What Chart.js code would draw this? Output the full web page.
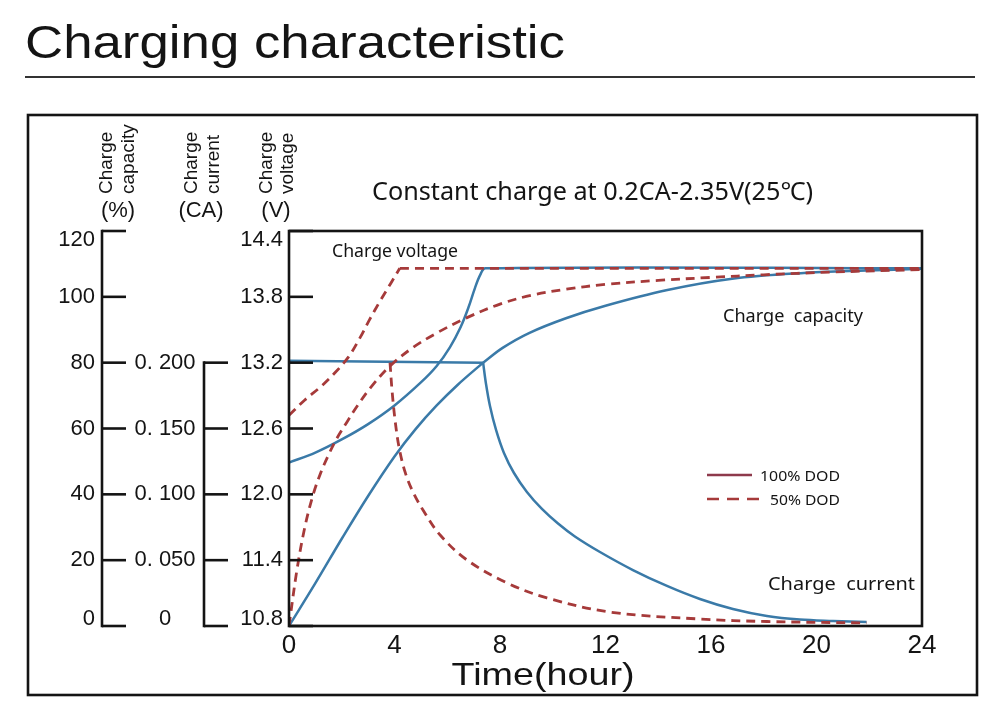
<!DOCTYPE html>
<html lang="en">
<head>
    <meta charset="UTF-8">
    <title>Charging characteristic</title>
    <script src="https://cdn.jsdelivr.net/npm/chart.js"></script>
    <style>
        body { margin: 0; background: #fff; }
        canvas { display: block; }
    </style>
</head>
<body>
    <canvas id="chargeChart" width="1000" height="711"></canvas>

    <script>
        // tick values / labels for the three left axes and the time axis
        var capTicks = [0, 20, 40, 60, 80, 100, 120];
        var curTicks = [0, 0.05, 0.1, 0.15, 0.2];
        var curLabels = ['0', '0. 050', '0. 100', '0. 150', '0. 200'];
        var voltTicks = [10.8, 11.4, 12.0, 12.6, 13.2, 13.8, 14.4];
        var hourTicks = [0, 4, 8, 12, 16, 20, 24];

        // charge voltage (V)
        var voltFullH = [0, 1, 2, 3, 4, 5, 5.6, 6.1, 6.5, 6.8, 7.05, 7.25, 7.45, 24];
        var voltFull = [12.29, 12.38, 12.5, 12.64, 12.81, 13.02, 13.17, 13.34, 13.52, 13.7, 13.88, 14.0, 14.06, 14.06];
        var voltHalfH = [0, 0.6, 1.2, 1.75, 2.25, 2.7, 3.05, 3.45, 3.85, 4.2, 24];
        var voltHalf = [12.72, 12.86, 12.98, 13.11, 13.25, 13.43, 13.59, 13.76, 13.92, 14.06, 14.06];

        // charge capacity (%)
        var capFullH = [0, 1, 2, 3, 4, 4.8, 5.6, 6.4, 7.36, 8.1, 9.1, 10.5, 12, 14.3, 16.8, 19.4, 21.9, 24];
        var capFull = [0, 13, 26.5, 39.5, 51.5, 59.8, 67, 73.3, 80, 84.5, 89, 93.5, 97.3, 102, 105.5, 107.2, 108, 108.5];
        var capHalfH = [0, 0.3, 0.6, 0.9, 1.2, 1.5, 1.8, 2.2, 2.6, 3.1, 3.83, 4.7, 5.6, 6.7, 8, 9.2, 10.5, 12, 14, 16, 18, 20.5, 24];
        var capHalf = [0, 17, 30, 39.5, 46.5, 52, 56.8, 62, 67, 72.5, 79, 84.6, 89, 93.5, 97.8, 100.5, 102.3, 103.8, 105, 105.9, 106.7, 107.5, 108.3];

        // charge current (CA)
        var curFullH = [0, 7.36, 7.47, 7.62, 7.85, 8.15, 8.53, 9.02, 9.59, 10.2, 10.84, 11.79, 13.04, 14.33, 15.58, 16.83, 18.12, 19.37, 20.63, 21.9];
        var curFull = [0.2015, 0.2, 0.1838, 0.1671, 0.1489, 0.1314, 0.1162, 0.1018, 0.0889, 0.0778, 0.068, 0.0562, 0.0425, 0.0304, 0.0205, 0.0129, 0.0076, 0.0049, 0.0038, 0.003];
        var curHalfH = [3.83, 3.905, 4.02, 4.17, 4.4, 4.7, 5.08, 5.73, 6.75, 8.27, 9.78, 12.17, 15.58, 18.12, 21.9];
        var curHalf = [0.2, 0.1792, 0.1565, 0.136, 0.117, 0.1018, 0.0881, 0.0691, 0.0501, 0.0327, 0.0213, 0.0106, 0.0053, 0.0034, 0.0023];

        // hours where a curve has a sharp corner
        var voltHalfKinks = [4.2];
        var capFullKinks = [7.36];
        var curFullKinks = [7.36];

        var blue = '#3a7aa8';
        var red = '#a63a3a';
        var ink = '#141414';

        // split a curve at its corners so the smoothing keeps them sharp
        function segments(hours, values, kinks) {
            var out = [[]];
            for (var i = 0; i < hours.length; i++) {
                var p = { x: hours[i], y: values[i] };
                out[out.length - 1].push(p);
                if (kinks.indexOf(hours[i]) >= 0 && i < hours.length - 1) {
                    out.push([p]);
                }
            }
            return out;
        }

        var datasets = [];
        function addCurve(hours, values, kinks, axis, dashed) {
            segments(hours, values, kinks).forEach(function (pts) {
                datasets.push({
                    data: pts,
                    yAxisID: axis,
                    borderColor: dashed ? red : blue,
                    borderWidth: dashed ? 2.8 : 2.5,
                    borderDash: dashed ? [9, 6] : [],
                    tension: 0.35,
                    fill: false
                });
            });
        }
        // dashed (50% DOD) first so they lie on top
        addCurve(voltHalfH, voltHalf, voltHalfKinks, 'yV', true);
        addCurve(capHalfH, capHalf, [], 'yC', true);
        addCurve(curHalfH, curHalf, [], 'yI', true);
        addCurve(voltFullH, voltFull, [], 'yV', false);
        addCurve(capFullH, capFull, capFullKinks, 'yC', false);
        addCurve(curFullH, curFull, curFullKinks, 'yI', false);

        // draw text squeezed/stretched to a given width
        function fit(c, text, x, y, w, align) {
            var m = c.measureText(text).width;
            c.save();
            c.translate(x, y);
            c.scale(w / m, 1);
            c.textAlign = align || 'left';
            c.fillText(text, 0, 0);
            c.restore();
        }
        function seg(c, x1, y1, x2, y2) {
            c.beginPath();
            c.moveTo(x1, y1);
            c.lineTo(x2, y2);
            c.stroke();
        }
        function upText(c, text, x, y) {
            c.save();
            c.translate(x, y);
            c.rotate(-Math.PI / 2);
            c.textAlign = 'left';
            c.textBaseline = 'alphabetic';
            c.fillText(text, 0, 0);
            c.restore();
        }

        var frame = {
            id: 'frame',
            afterDraw: function (chart) {
                var c = chart.ctx, a = chart.chartArea;
                var sx = chart.scales.x, sv = chart.scales.yV, sc = chart.scales.yC, si = chart.scales.yI;
                var arial = '"Liberation Sans", Arial, sans-serif';
                var noto = '"Noto Sans", "DejaVu Sans", sans-serif';
                c.save();
                c.fillStyle = ink;
                c.strokeStyle = ink;
                c.lineCap = 'butt';

                // heading + rule + outer box
                c.font = '47px ' + arial;
                c.textBaseline = 'alphabetic';
                fit(c, 'Charging characteristic', 25, 58, 540);
                c.strokeStyle = '#333';
                c.lineWidth = 2;
                seg(c, 25, 77, 975, 77);
                c.strokeStyle = ink;
                c.lineWidth = 2.6;
                c.strokeRect(28, 115, 949, 580);

                // plot frame
                c.lineWidth = 2.6;
                c.strokeRect(a.left, a.top, a.right - a.left, a.bottom - a.top);

                function labelY(py) {
                    return Math.min(Math.max(py, a.top + 9), a.bottom - 7);
                }

                // voltage axis: ticks inside the plot
                c.font = '22px ' + arial;
                c.textBaseline = 'middle';
                c.textAlign = 'right';
                voltTicks.forEach(function (v) {
                    var py = sv.getPixelForValue(v);
                    seg(c, a.left, py, a.left + 24, py);
                    c.fillText(v.toFixed(1), a.left - 6, labelY(py));
                });

                // capacity axis
                var capX = 102;
                seg(c, capX, sc.getPixelForValue(120) - 1.3, capX, sc.getPixelForValue(0) + 1.3);
                capTicks.forEach(function (v) {
                    var py = sc.getPixelForValue(v);
                    seg(c, capX, py, capX + 24, py);
                    c.textAlign = 'right';
                    c.fillText(String(v), capX - 7, labelY(py));
                });

                // current axis
                var curX = 204;
                seg(c, curX, si.getPixelForValue(0.2) - 1.3, curX, si.getPixelForValue(0) + 1.3);
                curTicks.forEach(function (v, i) {
                    var py = si.getPixelForValue(v);
                    seg(c, curX, py, curX + 24, py);
                    c.textAlign = 'center';
                    c.fillText(curLabels[i], 165, labelY(py));
                });

                // time axis
                c.font = '26px ' + arial;
                c.textAlign = 'center';
                hourTicks.forEach(function (h) {
                    c.fillText(String(h), sx.getPixelForValue(h), 646);
                });
                c.font = '32px ' + arial;
                c.textBaseline = 'alphabetic';
                fit(c, 'Time(hour)', 543, 685, 183, 'center');

                // axis titles
                c.font = '19px ' + arial;
                upText(c, 'Charge', 112, 194);
                upText(c, 'capacity', 134, 194);
                upText(c, 'Charge', 197, 194);
                upText(c, 'current', 219, 194);
                upText(c, 'Charge', 272, 194);
                upText(c, 'voltage', 293, 194);
                c.font = '22px ' + arial;
                c.textAlign = 'center';
                c.textBaseline = 'middle';
                c.fillText('(%)', 118, 211);
                c.fillText('(CA)', 201, 211);
                c.fillText('(V)', 276, 211);

                // captions
                c.textBaseline = 'alphabetic';
                c.font = '25px ' + noto;
                fit(c, 'Constant charge at 0.2CA-2.35V(25\u2103)', 372, 200, 441);
                c.font = '18px ' + noto;
                fit(c, 'Charge voltage', 332, 257, 126);
                fit(c, 'Charge  capacity', 723, 322, 140);
                fit(c, 'Charge  current', 768, 590, 147);

                // legend
                c.font = '15px ' + noto;
                fit(c, '100% DOD', 760, 481, 80);
                fit(c, '50% DOD', 770, 505, 70);
                c.lineWidth = 2.5;
                c.strokeStyle = '#8e3a4c';
                seg(c, 707, 475, 752, 475);
                c.strokeStyle = red;
                c.setLineDash([12, 8]);
                seg(c, 707, 499, 759, 499);
                c.setLineDash([]);

                c.restore();
            }
        };

        var ctx = document.getElementById('chargeChart').getContext('2d');
        new Chart(ctx, {
            type: 'line',
            data: { datasets: datasets },
            options: {
                responsive: false,
                animation: false,
                devicePixelRatio: 1,
                layout: { padding: { left: 289, right: 78, top: 231, bottom: 85 } },
                scales: {
                    x: { type: 'linear', min: 0, max: 24, display: false },
                    yV: { type: 'linear', min: 10.8, max: 14.4, display: false },
                    yC: { type: 'linear', min: 0, max: 120, display: false },
                    yI: { type: 'linear', min: 0, max: 0.3, display: false }
                },
                elements: {
                    point: { radius: 0 }
                },
                plugins: {
                    legend: { display: false },
                    tooltip: { enabled: false }
                }
            },
            plugins: [frame]
        });
    </script>
</body>
</html>
